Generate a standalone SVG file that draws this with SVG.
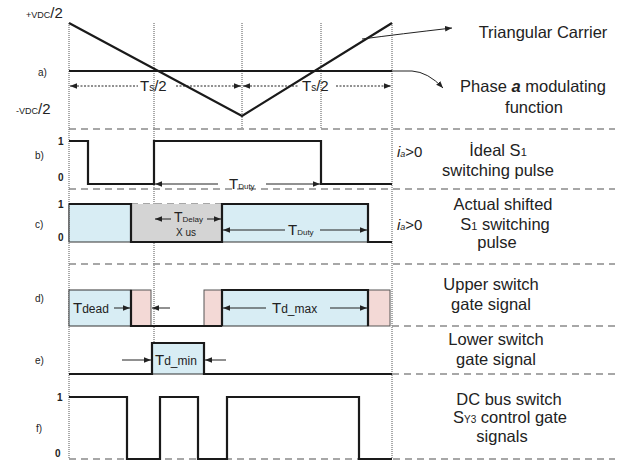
<svg xmlns="http://www.w3.org/2000/svg" width="624" height="463" viewBox="0 0 624 463">
<defs>
<style>
.t{font-family:"Liberation Sans",Arial,sans-serif;fill:#222}
.lab{font-size:16.5px;text-anchor:middle}
.sm{font-size:10px}
.lv{font-size:10px;font-weight:bold}
.w{fill:none;stroke:#1a1a1a;stroke-width:2.2}
.dash{fill:none;stroke:#8a8a8a;stroke-width:1.3;stroke-dasharray:7,5}
.dot{fill:none;stroke:#555;stroke-width:1;stroke-dasharray:1,1}
.ar{fill:none;stroke:#222;stroke-width:1}
.blue{fill:#d8edf4;stroke:#333;stroke-width:1}
.pink{fill:#f3d9d6;stroke:#555;stroke-width:1}
.gray{fill:#d4d4d4;stroke:none}
</style>
<marker id="ah" viewBox="0 0 10 10" refX="10" refY="5" markerWidth="7" markerHeight="7" orient="auto-start-reverse" markerUnits="userSpaceOnUse"><path d="M0,1 L10,5 L0,9 z" fill="#222"/></marker>
</defs>

<g id="guides">
<line class="dot" x1="69" y1="23" x2="69" y2="459"/>
<line class="dot" x1="154" y1="23" x2="154" y2="343"/>
<line class="dot" x1="242" y1="23" x2="242" y2="129"/>
<line class="dot" x1="321" y1="23" x2="321" y2="129"/>
<line class="dot" x1="392" y1="23" x2="392" y2="459"/>
<line class="dash" x1="69" y1="129" x2="615" y2="129"/>
<line class="dash" x1="69" y1="189" x2="615" y2="189"/>
<line class="dash" x1="131" y1="204" x2="222" y2="204"/>
<line class="dash" x1="69" y1="264" x2="615" y2="264"/>
<line class="dash" x1="392" y1="326" x2="615" y2="326"/>
<line class="dash" x1="392" y1="374" x2="615" y2="374"/>
<line class="dash" x1="69" y1="459" x2="615" y2="459"/>
</g>

<g id="node-a">
<polyline class="w" points="69,23 242,116 392,23" stroke-width="2"/>
<line class="w" x1="69" y1="71" x2="392" y2="71" stroke-width="2"/>
<text class="t" x="26" y="18"><tspan font-size="9">+VDC</tspan><tspan font-size="15">/2</tspan></text>
<text class="t" x="38" y="76" font-size="10">a)</text>
<text class="t" x="16" y="114"><tspan font-size="9">-VDC</tspan><tspan font-size="15">/2</tspan></text>
<text class="t" x="140" y="91"><tspan font-size="15">T</tspan><tspan font-size="10">s</tspan><tspan font-size="15">/2</tspan></text>
<text class="t" x="302" y="91"><tspan font-size="15">T</tspan><tspan font-size="10">s</tspan><tspan font-size="15">/2</tspan></text>
<text class="t lab" x="543" y="38">Triangular Carrier</text>
<text class="t lab" x="533" y="92">Phase <tspan font-weight="bold" font-style="italic">a</tspan> modulating</text>
<text class="t lab" x="534" y="113">function</text>
</g>

<g id="node-b">
<polyline class="w" points="69,141 88,141 88,184 154,184 154,141 321,141 321,184 392,184"/>
<text class="t lv" x="58" y="145">1</text>
<text class="t lv" x="58" y="181">0</text>
<text class="t" x="35" y="159" font-size="10">b)</text>
<text class="t" x="229" y="189"><tspan font-size="15">T</tspan><tspan font-size="8">Duty</tspan></text>
<text class="t" x="397" y="157" font-size="15" font-style="italic">i<tspan font-size="9">a</tspan><tspan font-style="normal">&gt;0</tspan></text>
<text class="t lab" x="498" y="156">İdeal S<tspan font-size="11">1</tspan></text>
<text class="t lab" x="498" y="176">switching pulse</text>
</g>

<g id="node-c">
<rect class="blue" x="69" y="204" width="62" height="38" stroke="none"/>
<rect class="gray" x="131" y="204" width="91" height="38"/>
<rect class="blue" x="222" y="204" width="146" height="38" stroke="none"/>
<line class="dot" x1="69" y1="204" x2="69" y2="242" stroke="#333" stroke-width="1.5"/>
<polyline class="w" points="69,204 131,204 131,242 222,242 222,204 368,204 368,242 392,242"/>
<text class="t lv" x="58" y="208">1</text>
<text class="t lv" x="58" y="241">0</text>
<text class="t" x="35" y="228" font-size="10">c)</text>
<text class="t" x="174" y="222"><tspan font-size="14">T</tspan><tspan font-size="8">Delay</tspan></text>
<text class="t" x="176" y="236" font-size="10">X us</text>
<text class="t" x="288" y="235"><tspan font-size="15">T</tspan><tspan font-size="8">Duty</tspan></text>
<text class="t lab" x="503" y="210">Actual shifted</text>
<text class="t" x="397" y="230" font-size="15" font-style="italic">i<tspan font-size="9">a</tspan><tspan font-style="normal">&gt;0</tspan></text>
<text class="t lab" x="505" y="230">S<tspan font-size="11">1</tspan> switching</text>
<text class="t lab" x="497" y="248">pulse</text>
</g>

<g id="node-d">
<rect class="blue" x="69" y="290" width="62" height="36"/>
<rect class="pink" x="131" y="290" width="20" height="36"/>
<rect class="pink" x="204" y="290" width="18" height="36"/>
<rect class="blue" x="222" y="290" width="146" height="36"/>
<rect class="pink" x="368" y="290" width="22" height="36"/>
<polyline class="w" points="131,290 131,326 222,326"/>
<polyline class="w" points="222,326 222,290 368,290 368,326"/>
<text class="t" x="35" y="302" font-size="10">d)</text>
<text class="t" x="73" y="313"><tspan font-size="15">T</tspan><tspan font-size="12">dead</tspan></text>
<text class="t" x="272" y="313"><tspan font-size="15">T</tspan><tspan font-size="12">d_max</tspan></text>
<text class="t lab" x="491" y="290">Upper switch</text>
<text class="t lab" x="491" y="310">gate signal</text>
</g>

<g id="node-e">
<rect class="blue" x="152" y="343" width="52" height="31" stroke="none"/>
<polyline class="w" points="69,374 152,374 152,343 204,343 204,374 392,374"/>
<text class="t" x="35" y="364" font-size="10">e)</text>
<text class="t" x="155" y="365"><tspan font-size="15">T</tspan><tspan font-size="12">d_min</tspan></text>
<text class="t lab" x="496" y="345">Lower switch</text>
<text class="t lab" x="496" y="365">gate signal</text>
</g>

<g id="node-f">
<polyline class="w" points="69,397 127,397 127,459 160,459 160,397 198,397 198,459 227,459 227,397 359,397 359,459 392,459"/>
<text class="t lv" x="57" y="401">1</text>
<text class="t" x="36" y="432" font-size="10">f)</text>
<text class="t lv" x="55" y="457">0</text>
<text class="t lab" x="509" y="405">DC bus switch</text>
<text class="t lab" x="510" y="423">S<tspan font-size="10">Y3</tspan> control gate</text>
<text class="t lab" x="502" y="442">signals</text>
</g>

<g id="connectors">
<path class="ar" d="M362,39 Q400,34 452,28" marker-end="url(#ah)"/>
<path class="ar" d="M392,71 L412,71 Q428,72 443,88" marker-end="url(#ah)"/>
<line class="ar" x1="70" y1="86" x2="138" y2="86" stroke-dasharray="2,1.5" marker-start="url(#ah)"/>
<line class="ar" x1="176" y1="86" x2="241" y2="86" stroke-dasharray="2,1.5" marker-end="url(#ah)"/>
<line class="ar" x1="243" y1="86" x2="299" y2="86" stroke-dasharray="2,1.5" marker-start="url(#ah)"/>
<line class="ar" x1="336" y1="86" x2="391" y2="86" stroke-dasharray="2,1.5" marker-end="url(#ah)"/>
<line class="ar" x1="155" y1="184" x2="218" y2="184" marker-start="url(#ah)"/>
<line class="ar" x1="266" y1="184" x2="320" y2="184" marker-end="url(#ah)"/>
<line class="ar" x1="155" y1="219" x2="171" y2="219" marker-start="url(#ah)"/>
<line class="ar" x1="207" y1="219" x2="221" y2="219" marker-end="url(#ah)"/>
<line class="ar" x1="223" y1="230" x2="285" y2="230" marker-start="url(#ah)"/>
<line class="ar" x1="320" y1="230" x2="367" y2="230" marker-end="url(#ah)"/>
<line class="ar" x1="114" y1="308" x2="130" y2="308" marker-end="url(#ah)"/>
<line class="ar" x1="170" y1="308" x2="152" y2="308" marker-end="url(#ah)"/>
<line class="ar" x1="223" y1="308" x2="266" y2="308" marker-start="url(#ah)"/>
<line class="ar" x1="330" y1="308" x2="367" y2="308" marker-end="url(#ah)"/>
<line class="ar" x1="122" y1="360" x2="151" y2="360" marker-end="url(#ah)"/>
<line class="ar" x1="226" y1="360" x2="205" y2="360" marker-end="url(#ah)"/>
</g>
</svg>
